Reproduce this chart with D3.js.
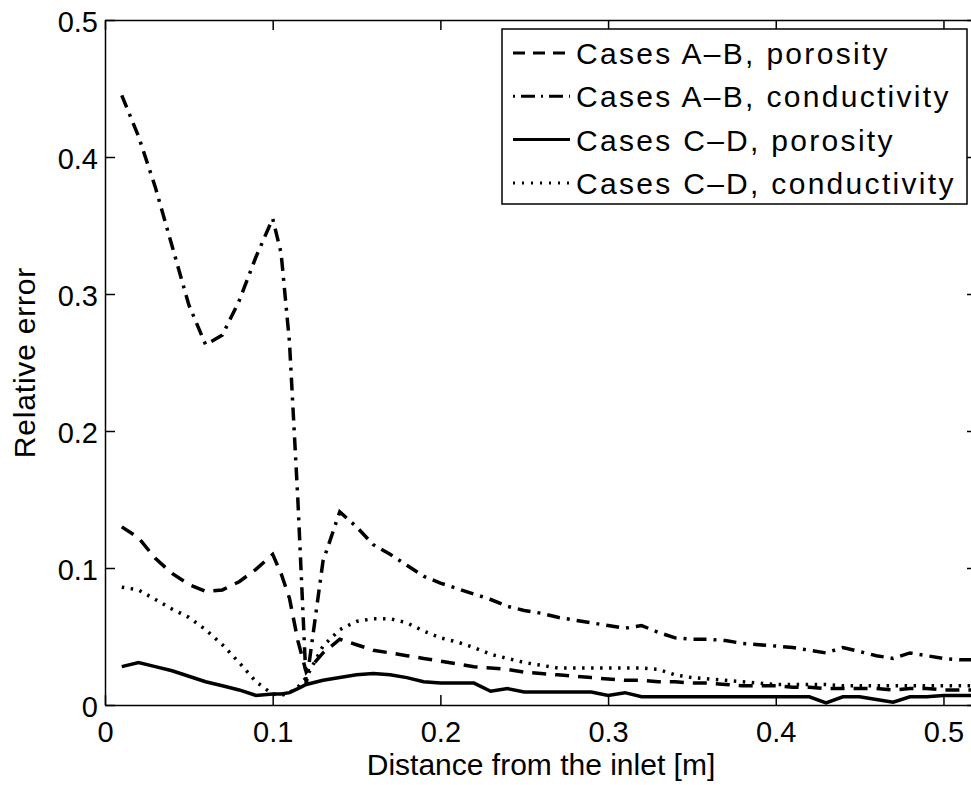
<!DOCTYPE html>
<html>
<head>
<meta charset="utf-8">
<script src="https://cdn.jsdelivr.net/npm/d3@7"></script>
<style>
  body { margin: 0; background: #fff; }
  svg { display: block; font-family: "Liberation Sans", Arial, sans-serif; }
</style>
</head>
<body>
<svg id="chart" width="971" height="785"></svg>
<script>
// distance from the inlet [m]
const distance = [0.01, 0.02, 0.03, 0.04, 0.05, 0.06, 0.07, 0.08, 0.09, 0.10, 0.105, 0.11, 0.115,
  0.12, 0.13, 0.14, 0.15, 0.16, 0.17, 0.18, 0.19, 0.20, 0.21, 0.22, 0.23, 0.24, 0.25, 0.26, 0.27,
  0.28, 0.29, 0.30, 0.31, 0.32, 0.33, 0.34, 0.35, 0.36, 0.37, 0.38, 0.39, 0.40, 0.41, 0.42, 0.43,
  0.44, 0.45, 0.46, 0.47, 0.48, 0.49, 0.50, 0.51, 0.52];

const abPorosity = [0.130, 0.122, 0.107, 0.096, 0.088, 0.083, 0.084, 0.090, 0.099, 0.110, 0.096, 0.078, 0.047,
  0.024, 0.038, 0.048, 0.044, 0.040, 0.038, 0.036, 0.034, 0.032, 0.030, 0.028, 0.027, 0.026, 0.024, 0.023, 0.022,
  0.021, 0.020, 0.019, 0.018, 0.018, 0.017, 0.017, 0.016, 0.016, 0.015, 0.014, 0.014, 0.014, 0.013, 0.013, 0.012,
  0.012, 0.012, 0.012, 0.011, 0.012, 0.012, 0.011, 0.011, 0.011];

const abConductivity = [0.445, 0.415, 0.378, 0.335, 0.292, 0.263, 0.270, 0.295, 0.327, 0.355, 0.330, 0.265, 0.150,
  0.015, 0.105, 0.141, 0.130, 0.117, 0.110, 0.102, 0.094, 0.089, 0.085, 0.081, 0.077, 0.072, 0.069, 0.067, 0.064,
  0.062, 0.060, 0.058, 0.056, 0.058, 0.053, 0.049, 0.048, 0.048, 0.047, 0.045, 0.044, 0.043, 0.042, 0.040, 0.038,
  0.042, 0.039, 0.036, 0.034, 0.038, 0.036, 0.034, 0.033, 0.033];

const cdPorosity = [0.028, 0.031, 0.028, 0.025, 0.021, 0.017, 0.014, 0.011, 0.007, 0.008, 0.008, 0.009, 0.012,
  0.015, 0.018, 0.020, 0.022, 0.023, 0.022, 0.020, 0.017, 0.016, 0.016, 0.016, 0.010, 0.012, 0.0095, 0.0095, 0.0095,
  0.0095, 0.0095, 0.007, 0.009, 0.006, 0.006, 0.006, 0.006, 0.006, 0.006, 0.006, 0.006, 0.006, 0.006, 0.006, 0.0015,
  0.006, 0.006, 0.004, 0.002, 0.006, 0.006, 0.007, 0.007, 0.007];

const cdConductivity = [0.086, 0.084, 0.077, 0.070, 0.064, 0.055, 0.044, 0.031, 0.017, 0.008, 0.007, 0.009, 0.013,
  0.020, 0.043, 0.055, 0.061, 0.063, 0.063, 0.060, 0.054, 0.049, 0.046, 0.042, 0.037, 0.034, 0.031, 0.029, 0.027,
  0.027, 0.027, 0.027, 0.027, 0.027, 0.026, 0.022, 0.020, 0.019, 0.018, 0.017, 0.016, 0.015, 0.015, 0.015, 0.015,
  0.014, 0.014, 0.014, 0.014, 0.014, 0.014, 0.014, 0.014, 0.014];

const seriesNames = ["Cases A\u2013B, porosity", "Cases A\u2013B, conductivity",
  "Cases C\u2013D, porosity", "Cases C\u2013D, conductivity"];
const seriesValues = [abPorosity, abConductivity, cdPorosity, cdConductivity];
const seriesDash = ["14,9", "13,7,3,7", null, "2.5,6.5"];

const xTicks = [0, 0.1, 0.2, 0.3, 0.4, 0.5];
const yTicks = [0, 0.1, 0.2, 0.3, 0.4, 0.5];

const margin = { top: 20, left: 105, bottom: 80 };
const plotW = 872, plotH = 685;

const svg = d3.select('#chart');

const x = d3.scaleLinear().domain([0, 0.52]).range([margin.left, margin.left + plotW]);
const y = d3.scaleLinear().domain([0, 0.5]).range([margin.top + plotH, margin.top]);

// data lines
const line = d3.line()
  .x((d, i) => x(distance[i]))
  .y(d => y(d));

seriesValues.forEach((vals, k) => {
  svg.append('path')
    .datum(vals)
    .attr('d', line)
    .attr('fill', 'none')
    .attr('stroke', '#000')
    .attr('stroke-width', 3.5)
    .attr('stroke-dasharray', seriesDash[k]);
});

// axes, matlab style box with inward ticks
const tickLen = 10;
const axisStyle = g => {
  g.select('.domain').attr('stroke', '#000').attr('stroke-width', 1.5);
  g.selectAll('.tick line').attr('stroke', '#000').attr('stroke-width', 1.5);
};

svg.append('g')
  .attr('transform', `translate(0,${y(0)})`)
  .call(d3.axisBottom(x).tickValues(xTicks).tickSizeInner(-tickLen).tickSizeOuter(0).tickPadding(16).tickFormat(d3.format('')))
  .call(axisStyle)
  .call(g => g.selectAll('.tick text').attr('font-size', 29).attr('fill', '#000').attr('font-family', '"Liberation Sans", Arial, sans-serif'));

svg.append('g')
  .attr('transform', `translate(0,${y(0.5)})`)
  .call(d3.axisTop(x).tickValues(xTicks).tickSizeInner(-tickLen).tickSizeOuter(0).tickFormat(''))
  .call(axisStyle);

svg.append('g')
  .attr('transform', `translate(${x(0)},0)`)
  .call(d3.axisLeft(y).tickValues(yTicks).tickSizeInner(-tickLen).tickSizeOuter(0).tickPadding(7).tickFormat(d3.format('')))
  .call(axisStyle)
  .call(g => g.selectAll('.tick text').attr('font-size', 29).attr('fill', '#000').attr('dy', '0.38em').attr('font-family', '"Liberation Sans", Arial, sans-serif'));

svg.append('g')
  .attr('transform', `translate(${x(0.52)},0)`)
  .call(d3.axisRight(y).tickValues(yTicks).tickSizeInner(-tickLen).tickSizeOuter(0).tickFormat(''))
  .call(axisStyle);

// axis titles
svg.append('text')
  .attr('x', (x(0) + x(0.52)) / 2)
  .attr('y', 775)
  .attr('text-anchor', 'middle')
  .attr('font-size', 30)
  .text('Distance from the inlet [m]');

svg.append('text')
  .attr('transform', `translate(35,${(y(0) + y(0.5)) / 2}) rotate(-90)`)
  .attr('text-anchor', 'middle')
  .attr('font-size', 30)
  .attr('letter-spacing', 0.8)
  .text('Relative error');

// legend
const legend = svg.append('g').attr('transform', 'translate(502,29)');
legend.append('rect')
  .attr('width', 465).attr('height', 175)
  .attr('fill', '#fff').attr('stroke', '#000').attr('stroke-width', 1.5);

seriesNames.forEach((name, k) => {
  const cy = 24 + k * 43.3;
  legend.append('line')
    .attr('x1', 11).attr('x2', 68).attr('y1', cy).attr('y2', cy)
    .attr('stroke', '#000').attr('stroke-width', 3)
    .attr('stroke-dasharray', k === 0 ? '12,8' : k === 1 ? '2,6,14,6' : k === 3 ? '2,7' : null);
  legend.append('text')
    .attr('x', 74).attr('y', cy + 11)
    .attr('font-size', 30)
    .attr('letter-spacing', 2.3)
    .text(name);
});
</script>
</body>
</html>
